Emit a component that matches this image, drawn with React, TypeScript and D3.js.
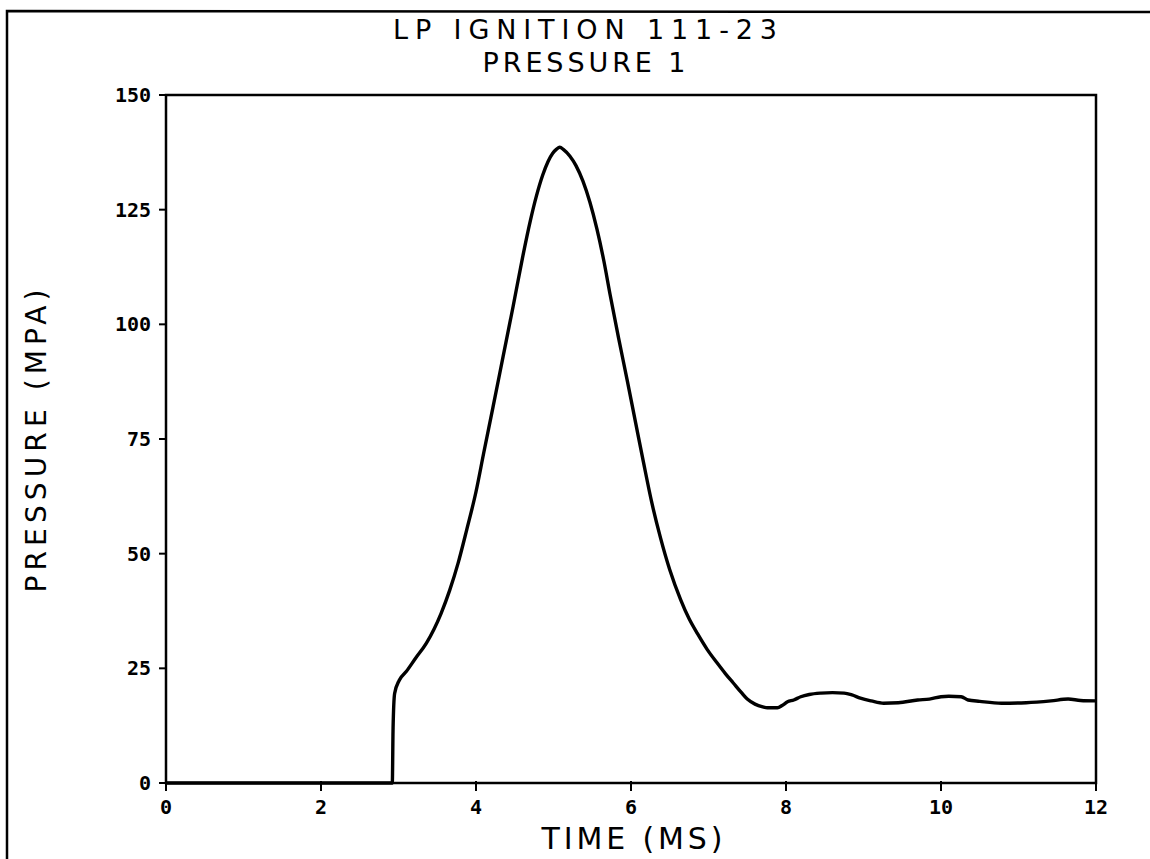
import * as d3 from "d3";

// pressure trace (time in ms, pressure in MPa)
const timeMs = [
  0, 1, 2, 2.9, 2.92, 2.93, 2.95, 3.01, 3.1, 3.22, 3.36, 3.55, 3.66, 3.77, 3.88,
  4.0, 4.1, 4.22, 4.35, 4.48, 4.6, 4.7, 4.78, 4.86, 4.93, 4.99, 5.04, 5.08, 5.13,
  5.21, 5.29, 5.38, 5.47, 5.56, 5.65, 5.73, 5.84, 5.95, 6.06, 6.16, 6.27, 6.38,
  6.5, 6.64, 6.75, 6.86, 6.98, 7.11, 7.22, 7.32, 7.42, 7.5, 7.6, 7.7, 7.76, 7.89,
  7.95, 8.02, 8.1, 8.19, 8.3, 8.45, 8.6, 8.75, 8.85, 8.96, 9.1, 9.26, 9.45, 9.7,
  9.85, 10.0, 10.1, 10.26, 10.35, 10.5, 10.78, 11.1, 11.42, 11.64, 11.8, 12.0,
];
const pressure = [
  0, 0, 0, 0, 0, 12, 19.5, 22.4, 24.3, 27.2, 30.5, 37, 42, 48, 55.2,
  63.5, 72, 82, 93, 104, 114.5, 122.5, 128, 132.5, 135.5, 137.3, 138.2, 138.6, 138.1,
  136.7, 134.6, 131.2, 126.6, 120.8, 113.8, 106.5, 97, 87.9, 78.5, 70, 61, 53.5,
  46.5, 40, 35.8, 32.5, 29.2, 26.2, 23.8, 21.8, 19.8, 18.3, 17.2, 16.6, 16.4, 16.4,
  16.9, 17.7, 18.1, 18.8, 19.3, 19.6, 19.7, 19.6, 19.2, 18.5, 17.9, 17.4, 17.5, 18.1,
  18.3, 18.8, 18.9, 18.8, 18.1, 17.8, 17.4, 17.5, 17.9, 18.3, 18.0, 17.9,
];
const xTicks = [0, 2, 4, 6, 8, 10, 12];
const yTicks = [0, 25, 50, 75, 100, 125, 150];

const W = 1150;
const H = 859;
const plot = { left: 166, right: 1096, top: 95, bottom: 783 };

const titleFont = "'DejaVu Sans', sans-serif";
const tickFont = "'DejaVu Sans Mono', monospace";

export default function App() {
  const x = d3.scaleLinear().domain([0, 12]).range([plot.left, plot.right]);
  const y = d3.scaleLinear().domain([0, 150]).range([plot.bottom, plot.top]);

  const pts: [number, number][] = timeMs.map((t, i) => [t, pressure[i]]);
  const line = d3
    .line<[number, number]>()
    .x((d) => x(d[0]))
    .y((d) => y(d[1]))
    .curve(d3.curveMonotoneX);

  return (
    <svg
      width={W}
      height={H}
      style={{ position: "absolute", left: 0, top: 0, background: "#fff" }}
    >
      {/* outer page frame */}
      <path d={`M7,${H} L7,11 L${W},12`} fill="none" stroke="#000" strokeWidth={2.5} />

      {/* title */}
      <text x={585} y={39} fontFamily={titleFont} fontSize={27} textAnchor="middle"
        textLength={384} lengthAdjust="spacing">LP IGNITION 111-23</text>
      <text x={584} y={72} fontFamily={titleFont} fontSize={27} textAnchor="middle"
        textLength={203} lengthAdjust="spacing">PRESSURE 1</text>

      {/* plot box */}
      <rect x={plot.left} y={plot.top} width={plot.right - plot.left}
        height={plot.bottom - plot.top} fill="none" stroke="#000" strokeWidth={2.5} />

      {/* y ticks */}
      {yTicks.map((v) => (
        <g key={"y" + v}>
          <line x1={plot.left - 7} x2={plot.left} y1={y(v)} y2={y(v)} stroke="#000" strokeWidth={2} />
          <text x={151} y={y(v) + 7} textAnchor="end" fontFamily={tickFont}
            fontWeight="bold" fontSize={20}>{v}</text>
        </g>
      ))}

      {/* x ticks */}
      {xTicks.map((v) => (
        <g key={"x" + v}>
          <line x1={x(v)} x2={x(v)} y1={plot.bottom - 2} y2={plot.bottom + 8} stroke="#000" strokeWidth={2} />
          <text x={x(v)} y={814} textAnchor="middle" fontFamily={tickFont}
            fontWeight="bold" fontSize={20}>{v}</text>
        </g>
      ))}

      {/* axis titles */}
      <text x={632} y={849} textAnchor="middle" fontFamily={titleFont} fontSize={30}
        textLength={181} lengthAdjust="spacing">TIME (MS)</text>
      <text transform="translate(46,441) rotate(-90)" textAnchor="middle"
        fontFamily={titleFont} fontSize={28} textLength={303}
        lengthAdjust="spacing">PRESSURE (MPA)</text>

      {/* trace */}
      <path d={line(pts) ?? ""} fill="none" stroke="#000" strokeWidth={3.4}
        strokeLinejoin="round" />
    </svg>
  );
}
